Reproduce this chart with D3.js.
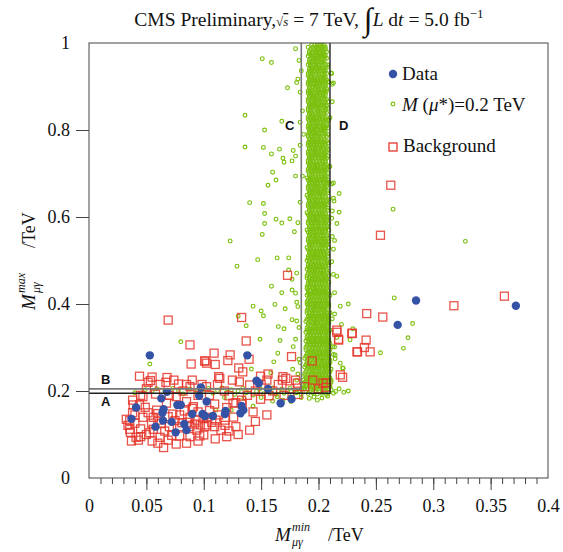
<!DOCTYPE html>
<html>
<head>
<meta charset="utf-8">
<script src="https://cdn.jsdelivr.net/npm/d3@7"></script>
<style>
  body { margin: 0; background: #fff; }
  svg text { font-family: "Liberation Serif", "Times New Roman", serif; fill: #111; }
</style>
</head>
<body>
<div id="chart"></div>
<script>
const width = 563;
const height = 552;

const xMajor = [0.05, 0.1, 0.15, 0.2, 0.25, 0.3, 0.35];
const xLabels = [0, 0.05, 0.1, 0.15, 0.2, 0.25, 0.3, 0.35, 0.4];
const yLabels = [0, 0.2, 0.4, 0.6, 0.8, 1];

// selection boundaries (TeV)
const cutsGray = { x: 0.185, y: 0.205 };
const cutsBlack = { x: 0.21, y: 0.195 };

// observed events [Mmin, Mmax]
const dataPts = [
  [0.053,0.282],[0.138,0.282],[0.285,0.408],[0.372,0.396],[0.269,0.352],
  [0.068,0.198],[0.063,0.183],[0.0975,0.208],[0.096,0.189],[0.1025,0.176],
  [0.041,0.162],[0.065,0.158],[0.064,0.150],[0.077,0.168],[0.080,0.168],
  [0.090,0.147],[0.099,0.147],[0.101,0.1425],[0.037,0.136],[0.0645,0.132],
  [0.072,0.129],[0.083,0.124],[0.058,0.118],[0.085,0.110],[0.0755,0.105],
  [0.146,0.2235],[0.148,0.218],[0.156,0.2045],[0.167,0.172],[0.1765,0.1815],
  [0.133,0.1655],[0.1345,0.156],[0.132,0.149],[0.119,0.154],[0.108,0.1425],[0.1185,0.147]
];

// background MC
const bkgPts = [
  [0.263,0.673],[0.254,0.558],[0.362,0.418],[0.318,0.396],[0.242,0.378],[0.256,0.370],
  [0.216,0.340],[0.229,0.332],[0.2175,0.319],[0.2415,0.317],[0.240,0.300],[0.234,0.290],
  [0.245,0.290],[0.173,0.466],[0.133,0.369],[0.069,0.363],[0.088,0.306],[0.089,0.262],[0.101,0.269],
  [0.044,0.234],[0.055,0.232],[0.0535,0.224],[0.0515,0.220],[0.068,0.231],[0.067,0.220],
  [0.078,0.216],[0.085,0.215],[0.088,0.210],[0.0985,0.215],[0.1025,0.210],
  [0.038,0.179],[0.044,0.168],[0.049,0.1625],[0.038,0.150],[0.0325,0.135],[0.0355,0.132],
  [0.040,0.126],[0.047,0.1395],[0.0515,0.150],[0.056,0.1395],[0.0545,0.126],[0.060,0.133],
  [0.069,0.141],[0.073,0.147],[0.079,0.145],[0.088,0.1395],[0.094,0.133],[0.070,0.118],
  [0.079,0.118],[0.088,0.118],[0.094,0.110],[0.0965,0.0966],[0.053,0.104],[0.062,0.0935],
  [0.076,0.078],[0.041,0.0935],[0.043,0.087],[0.0355,0.112],[0.0675,0.172],[0.076,0.187],
  [0.085,0.1755],[0.091,0.164],[0.059,0.156],[0.047,0.187],[0.0385,0.168],[0.1025,0.122],
  [0.0995,0.137],[0.079,0.0966],[0.088,0.095],
  [0.137,0.315],[0.109,0.287],[0.123,0.283],[0.101,0.269],[0.1025,0.264],[0.110,0.261],
  [0.121,0.270],[0.1395,0.273],[0.1765,0.279],[0.1945,0.269],[0.1305,0.253],[0.134,0.244],
  [0.113,0.233],[0.114,0.229],[0.131,0.221],[0.1495,0.234],[0.156,0.239],[0.169,0.233],
  [0.1715,0.229],[0.1685,0.225],[0.140,0.214],[0.150,0.215],[0.1815,0.218],[0.216,0.335],
  [0.2295,0.333],[0.2175,0.317],[0.2335,0.290],[0.219,0.237],[0.221,0.2315],[0.204,0.218],
  [0.207,0.219],[0.2065,0.2085],[0.122,0.189],[0.1095,0.170],[0.1255,0.172],[0.128,0.173],
  [0.133,0.179],[0.1335,0.170],[0.1495,0.181],[0.157,0.189],[0.182,0.192],[0.143,0.152],
  [0.1025,0.1395],[0.1105,0.133],[0.1185,0.121],[0.101,0.118],[0.1095,0.118],[0.1185,0.133],[0.100,0.099],
  [0.034,0.121],[0.036,0.105],[0.045,0.113],[0.050,0.100],[0.056,0.112],[0.060,0.148],
  [0.063,0.125],[0.066,0.108],[0.069,0.087],[0.072,0.098],[0.075,0.132],[0.081,0.127],
  [0.083,0.154],[0.086,0.128],[0.090,0.160],[0.092,0.124],[0.095,0.152],[0.097,0.122],
  [0.105,0.155],[0.107,0.128],[0.113,0.145],[0.115,0.110],[0.120,0.162],[0.122,0.108],
  [0.126,0.140],[0.128,0.118],[0.040,0.145],[0.045,0.190],[0.050,0.205],[0.058,0.193],
  [0.062,0.215],[0.070,0.190],[0.074,0.225],[0.082,0.200],[0.090,0.225],[0.095,0.190],
  [0.105,0.190],[0.112,0.215],[0.118,0.200],[0.125,0.225],[0.138,0.190],[0.145,0.200],
  [0.155,0.225],[0.160,0.200],[0.165,0.215],[0.170,0.190],[0.175,0.205],[0.180,0.225],
  [0.188,0.210],[0.195,0.225],[0.200,0.205],[0.145,0.130],[0.155,0.145],[0.140,0.110],
  [0.130,0.100],[0.110,0.090],[0.095,0.085],[0.085,0.080],[0.060,0.080],[0.045,0.095],
  [0.037,0.085],[0.055,0.085],[0.120,0.095],[0.065,0.070]
];

// signal MC, scattered points [Mmin, Mmax]
const sigScatter = [
  [0.180,0.987],[0.151,0.964],[0.159,0.955],[0.183,0.960],[0.185,0.936],[0.182,0.917],
  [0.181,0.909],[0.173,0.897],[0.184,0.887],[0.136,0.834],[0.168,0.820],[0.153,0.800],
  [0.184,0.818],[0.186,0.844],[0.136,0.761],[0.152,0.760],[0.166,0.756],[0.159,0.745],
  [0.178,0.753],[0.180,0.740],[0.169,0.735],[0.170,0.726],[0.177,0.729],[0.184,0.765],
  [0.160,0.703],[0.163,0.685],[0.156,0.673],[0.180,0.694],[0.186,0.694],[0.187,0.790],
  [0.140,0.633],[0.152,0.631],[0.153,0.608],[0.163,0.595],[0.168,0.586],[0.175,0.596],
  [0.153,0.585],[0.151,0.560],[0.123,0.545],[0.179,0.566],[0.182,0.587],[0.184,0.634],
  [0.147,0.502],[0.164,0.506],[0.174,0.506],[0.129,0.487],[0.174,0.478],[0.181,0.471],
  [0.177,0.457],[0.159,0.441],[0.168,0.426],[0.177,0.432],[0.180,0.425],[0.143,0.395],
  [0.162,0.399],[0.171,0.389],[0.150,0.384],[0.152,0.373],[0.130,0.372],[0.137,0.350],
  [0.165,0.348],[0.170,0.343],[0.177,0.364],[0.183,0.346],[0.181,0.404],[0.182,0.394],[0.181,0.361],
  [0.2115,0.676],[0.218,0.654],[0.213,0.643],[0.2135,0.637],[0.212,0.614],[0.218,0.611],
  [0.265,0.618],[0.2115,0.597],[0.216,0.585],[0.212,0.555],[0.214,0.546],[0.213,0.526],
  [0.328,0.544],[0.2115,0.497],[0.216,0.464],[0.213,0.468],[0.214,0.426],[0.266,0.414],
  [0.226,0.400],[0.219,0.395],[0.214,0.377],[0.212,0.366],[0.220,0.353],[0.230,0.343],
  [0.216,0.323],[0.2275,0.318],[0.282,0.355],[0.278,0.3225],[0.274,0.298],[0.254,0.288],
  [0.214,0.301],[0.213,0.284],[0.2145,0.274],[0.221,0.253],
  [0.211,0.931],[0.213,0.908],[0.212,0.865],[0.210,0.828],[0.213,0.678],[0.2115,0.930],
  [0.212,0.905],[0.209,0.911],[0.2085,0.865],[0.209,0.823],[0.208,0.804],[0.210,0.716],
  [0.149,0.319],[0.1665,0.316],[0.180,0.319],[0.1645,0.287],[0.161,0.267],[0.178,0.302],
  [0.183,0.273],[0.1775,0.250],[0.182,0.239],[0.1585,0.242],[0.1415,0.2505],[0.181,0.225],
  [0.184,0.265],[0.2125,0.302],[0.2145,0.283],[0.2215,0.252],[0.219,0.264],
  [0.053,0.262],[0.080,0.313]
];

// signal MC, low band around Mmax = 0.2 TeV
const sigLow = [
  [0.040,0.196],[0.049,0.203],[0.055,0.199],[0.059,0.205],[0.066,0.200],[0.073,0.206],
  [0.078,0.201],[0.082,0.193],[0.088,0.204],[0.094,0.198],[0.099,0.202],[0.104,0.206],
  [0.108,0.195],[0.112,0.201],[0.116,0.207],[0.120,0.197],[0.124,0.203],[0.127,0.192],
  [0.130,0.200],[0.134,0.206],[0.137,0.196],[0.140,0.202],[0.143,0.191],[0.146,0.199],
  [0.149,0.205],[0.152,0.194],[0.155,0.201],[0.158,0.197],[0.160,0.207],[0.163,0.192],
  [0.165,0.200],[0.168,0.204],[0.170,0.195],[0.173,0.199],[0.175,0.206],[0.177,0.191],
  [0.179,0.202],[0.181,0.196],[0.183,0.200],[0.185,0.193],[0.187,0.205],[0.189,0.198],
  [0.191,0.194],[0.193,0.201],[0.195,0.196],[0.197,0.200],[0.199,0.193],[0.201,0.198],
  [0.203,0.195],[0.205,0.200],[0.207,0.192],[0.209,0.197],[0.211,0.203],[0.213,0.195],
  [0.215,0.199],[0.218,0.205],[0.222,0.197],[0.226,0.200],
  [0.124,0.156],[0.143,0.165],[0.164,0.187],[0.169,0.179],[0.1105,0.156],[0.150,0.185],
  [0.135,0.183],[0.160,0.177],[0.118,0.185],[0.175,0.185],[0.185,0.185],[0.192,0.183],
  [0.176,0.176],[0.196,0.186],[0.203,0.184],[0.199,0.179],[0.208,0.188]
];

// signal MC, dense vertical band: [Mmax*1000, Mmin*1000 ...]
const sigBand = [
  [995,194,197,199,201,203,205],[985,193,196,198,200,202,204,206],[975,192,195,198,201,203,205],
  [965,193,196,199,200,202,205,207],[955,192,194,197,199,202,204],[945,193,195,198,201,203,206,208],
  [935,192,194,196,199,201,204,206],[925,191,194,197,200,203,205],[915,192,195,197,199,202,204,207],
  [905,191,193,196,198,201,203,206],[895,192,194,197,200,202,205,207],[885,191,193,196,199,201,204,206],
  [875,192,195,197,200,203,205],[865,191,194,196,198,201,203,206],[855,192,194,197,199,202,205,207],
  [845,191,193,196,199,201,204,206],[835,192,195,197,200,202,205],[825,191,194,196,198,201,203,206],
  [815,192,194,197,199,202,204,207],[805,191,193,196,198,201,204,206],[795,192,195,197,200,203,205],
  [785,191,194,196,199,201,204,207],[775,192,194,197,199,202,205,207],[765,191,193,196,198,201,203,206],
  [755,192,195,197,200,202,205,208],[745,191,194,196,199,201,204,206],[735,192,194,197,200,203,205,207],
  [725,191,193,196,198,201,204,206],[715,192,195,197,199,202,205,208],[705,191,194,196,199,201,204,206],
  [695,192,194,197,200,203,205,207],[685,191,193,196,198,201,203,206,208],[675,192,195,197,199,202,205,207],
  [665,191,194,196,199,201,204,206],[655,192,194,197,200,202,205,208],[645,191,193,196,198,201,203,206],
  [635,192,195,197,199,202,204,207],[625,191,194,196,199,201,204,206],[615,192,194,197,200,203,205,208],
  [605,191,193,196,198,201,203,206],[595,192,195,197,199,202,205,207],[585,191,194,196,199,201,204,206,209],
  [575,192,194,197,200,202,205,207],[565,191,193,196,198,201,203,206],[555,192,195,197,199,202,204,207],
  [545,191,194,196,199,201,204,206,209],[535,192,194,197,200,203,205,207],[525,191,193,196,198,201,203,206],
  [515,192,195,197,199,202,205,208],[505,191,194,196,199,201,204,206],[495,192,194,197,200,202,205,207,209],
  [485,191,193,196,198,201,203,206],[475,192,195,197,199,202,204,207],[465,190,194,196,199,201,204,206,209],
  [455,192,194,197,200,203,205,207],[445,191,193,196,198,201,203,206,208],[435,190,195,197,199,202,205,207],
  [425,191,194,196,199,201,204,206,209],[415,192,194,197,200,202,205,207],[405,190,193,196,198,201,203,206,208],
  [395,191,195,197,199,202,204,207,209],[385,190,194,196,199,201,204,206],[375,192,194,197,200,203,205,207,209],
  [365,190,193,196,198,201,203,206,208],[355,191,195,197,199,202,205,207,209],[345,190,193,196,199,201,204,206,208],
  [335,189,192,194,197,200,202,205,207,209],[325,190,193,196,198,201,203,206,208],[315,189,192,195,197,199,202,204,207,209],
  [305,190,193,196,198,201,203,206,208],[295,189,192,194,197,200,202,205,207,210],[285,190,193,196,198,201,203,206,208],
  [275,188,191,194,197,199,202,204,207,209],[265,190,192,195,198,200,203,205,208,210],[255,188,191,194,196,199,201,204,206,209],
  [245,189,192,195,197,200,202,205,207,210],[235,188,191,193,196,198,201,203,206,209],[225,187,190,193,195,198,200,203,205,208,211],
  [215,186,189,192,194,197,199,202,204,207,210],[205,185,188,191,193,196,198,201,203,206,209],
  [990,191,195,198,200,203,206],[980,192,194,197,199,201,204,207],[970,191,194,196,199,202,204,206],
  [960,192,195,197,200,203,205],[950,191,193,196,198,200,203,206,208],[940,192,195,197,200,202,205],
  [930,191,193,195,198,200,203,205,207],[920,192,194,196,199,202,204,206],[910,191,193,196,198,200,203,205,208],
  [900,192,195,197,199,201,204,206],[890,191,193,195,198,200,203,205,207],[880,192,194,196,199,201,204,206],
  [870,191,193,196,198,200,202,205,207],[860,192,195,197,200,203,205],[850,191,193,195,198,200,203,206,208],
  [840,192,194,197,200,202,205,207],[830,191,193,196,199,201,204,206],[820,192,195,197,199,202,205,207],
  [810,191,193,195,198,200,203,205,207],[800,192,194,196,199,202,204,206],[790,191,193,196,198,200,203,206,208],
  [780,192,195,197,200,202,205],[770,191,193,195,198,201,203,206,208],[760,192,194,197,199,202,204,207],
  [750,191,193,196,198,200,203,205,207],[740,192,195,197,200,202,205,208],[730,191,193,195,198,201,203,206],
  [720,192,194,197,199,202,204,207],[710,191,193,196,198,200,203,205,207],[700,192,195,197,200,202,205,208],
  [690,190,193,195,198,200,203,206],[680,192,194,197,199,202,204,207,209],[670,191,193,196,198,200,203,205,207],
  [660,192,195,197,200,202,205,208],[650,190,193,195,198,201,203,206],[640,192,194,197,199,202,204,207,209],
  [630,191,193,196,198,200,203,205,207],[620,192,195,197,200,202,205,208],[610,190,193,195,198,201,203,206],
  [600,192,194,197,199,202,204,207,209],[590,191,193,196,198,200,203,205,207],[580,192,195,197,200,202,205,208],
  [570,190,193,195,198,201,203,206,209],[560,192,194,197,199,202,204,207],[550,191,193,196,198,200,203,205,208],
  [540,192,195,197,200,202,205,207],[530,190,193,195,198,201,203,206,209],[520,192,194,197,199,202,204,207],
  [510,191,193,196,198,200,203,205,208],[500,190,192,195,197,200,202,205,207],[490,191,193,196,198,201,203,206,209],
  [480,190,192,194,197,199,202,204,207],[470,191,193,196,198,201,203,205,208],[460,190,192,195,197,200,202,205,207],
  [450,191,193,196,198,201,203,206,209],[440,190,192,194,197,199,202,204,207],[430,191,193,196,198,201,203,205,208],
  [420,190,192,195,197,200,202,205,207,210],[410,191,193,196,198,201,203,206,208],[400,190,192,194,197,199,202,204,207,209],
  [390,191,193,196,198,201,203,205,208],[380,190,192,195,197,200,202,205,207,210],[370,191,193,196,198,201,203,206,208],
  [360,189,192,194,197,199,202,204,207,209],[350,191,193,196,198,201,203,205,208],[340,190,192,195,197,200,202,205,207,210],
  [330,191,193,196,198,201,203,206,208],[320,190,192,194,197,199,202,204,207,209],[310,191,193,196,198,201,203,205,208,210],
  [300,189,192,195,197,200,202,205,207,209],[290,191,193,196,198,201,203,206,208],[280,189,192,194,197,199,202,204,207,209],
  [270,190,193,196,198,201,203,205,208,210],[260,189,191,194,197,200,202,205,207,209],[250,190,193,195,198,200,203,206,208,211],
  [240,188,191,194,196,199,201,204,206,209],[230,189,192,194,197,199,202,204,207,210],[220,188,190,193,196,198,201,203,206,208,211],
  [210,187,189,192,195,197,200,202,205,207,210]
];

const blue = "#3453a6";
const green = "#7cc00f";
const red = "#e5352a";

const x = d3.scaleLinear().domain([0, 0.4]).range([89, 548]);
const y = d3.scaleLinear().domain([0, 1]).range([478, 43]);

const svg = d3.select("#chart").append("svg")
  .attr("width", width)
  .attr("height", height);

const plot = svg.append("g");

// signal
const bandPts = sigBand.flatMap(r => r.slice(1).map(v => [v / 1000, r[0] / 1000]));
const sigAll = bandPts.concat(sigScatter, sigLow);

plot.selectAll("circle.sig")
  .data(sigAll)
  .enter()
  .append("circle")
  .attr("class", "sig")
  .attr("cx", d => x(d[0]))
  .attr("cy", d => y(d[1]))
  .attr("r", 1.9)
  .attr("fill", "none")
  .attr("stroke", green)
  .attr("stroke-width", 1.15);

// background
plot.selectAll("rect.bkg")
  .data(bkgPts)
  .enter()
  .append("rect")
  .attr("class", "bkg")
  .attr("x", d => x(d[0]) - 4)
  .attr("y", d => y(d[1]) - 4)
  .attr("width", 8)
  .attr("height", 8)
  .attr("fill", "none")
  .attr("stroke", red)
  .attr("stroke-opacity", 0.85)
  .attr("stroke-width", 1.3);

// data
plot.selectAll("circle.dat")
  .data(dataPts)
  .enter()
  .append("circle")
  .attr("class", "dat")
  .attr("cx", d => x(d[0]))
  .attr("cy", d => y(d[1]))
  .attr("r", 4.2)
  .attr("fill", blue);

// cut lines
function cutPath(c) {
  return `M${x(0)},${y(c.y)}H${x(c.x)}V${y(1)}`;
}
svg.append("path").attr("d", cutPath(cutsGray))
  .attr("fill", "none").attr("stroke", "#777").attr("stroke-width", 1.6);
svg.append("path").attr("d", cutPath(cutsBlack))
  .attr("fill", "none").attr("stroke", "#222").attr("stroke-width", 1.4);

const regionLabels = [["A", 101, 406], ["B", 101, 384], ["C", 285, 130], ["D", 339, 130]];
svg.selectAll("text.region")
  .data(regionLabels)
  .enter()
  .append("text")
  .attr("class", "region")
  .attr("x", d => d[1])
  .attr("y", d => d[2])
  .style("font-family", "'Liberation Sans', Arial, sans-serif")
  .style("font-weight", "bold")
  .style("font-size", "13px")
  .text(d => d[0]);

// frame
svg.append("rect")
  .attr("x", x(0)).attr("y", y(1))
  .attr("width", x(0.4) - x(0)).attr("height", y(0) - y(1))
  .attr("fill", "none").attr("stroke", "#444").attr("stroke-width", 1);

// x axis
const minorTicks = d3.range(1, 40).map(i => i / 100);
svg.append("g")
  .attr("transform", `translate(0,${y(0)})`)
  .call(d3.axisBottom(x).tickValues(minorTicks).tickSize(6).tickFormat(""))
  .call(g => g.select(".domain").remove())
  .call(g => g.selectAll("line").attr("stroke", "#444"));

svg.append("g")
  .attr("transform", `translate(0,${y(0)})`)
  .call(d3.axisBottom(x).tickValues(xMajor).tickSize(12).tickFormat(""))
  .call(g => g.select(".domain").remove())
  .call(g => g.selectAll("line").attr("stroke", "#444"));

svg.append("g")
  .attr("transform", `translate(0,${y(0)})`)
  .attr("font-family", "Liberation Serif")
  .call(d3.axisBottom(x).tickValues(xLabels).tickSize(0).tickPadding(21)
    .tickFormat(d => String(+d.toFixed(2))))
  .attr("font-family", "Liberation Serif")
  .attr("font-size", 18)
  .call(g => g.select(".domain").remove())
  .call(g => g.selectAll("text").attr("fill", "#111"));

// y axis
svg.append("g")
  .attr("transform", `translate(${x(0)},0)`)
  .call(d3.axisLeft(y).tickValues(yLabels).tickSize(13).tickPadding(6)
    .tickFormat(d => String(+d.toFixed(1))))
  .attr("font-family", "Liberation Serif")
  .attr("font-size", 18)
  .call(g => g.select(".domain").remove())
  .call(g => g.selectAll("line").attr("stroke", "#444")
    .attr("opacity", d => (d === 0 || d === 1) ? 0 : 1))
  .call(g => g.selectAll("text").attr("fill", "#111"));

// axis titles
const xt = svg.append("g");
xt.append("text").attr("x", 275).attr("y", 541).style("font-style", "italic").style("font-size", "19px").text("M");
xt.append("text").attr("x", 292).attr("y", 531).style("font-style", "italic").style("font-size", "12px").text("min");
xt.append("text").attr("x", 292).attr("y", 546).style("font-style", "italic").style("font-size", "12px").text("μγ");
xt.append("text").attr("x", 328).attr("y", 541).style("font-size", "18px").text("/TeV");

const yt = svg.append("g").attr("transform", "translate(35,310) rotate(-90)");
yt.append("text").attr("x", 0).attr("y", 0).style("font-style", "italic").style("font-size", "19px").text("M");
yt.append("text").attr("x", 17).attr("y", -10).style("font-style", "italic").style("font-size", "12px").text("max");
yt.append("text").attr("x", 17).attr("y", 5).style("font-style", "italic").style("font-size", "12px").text("μγ");
yt.append("text").attr("x", 62).attr("y", 0).style("font-size", "18px").text("/TeV");

// title
const title = svg.append("text")
  .attr("x", 309).attr("y", 26)
  .attr("text-anchor", "middle")
  .style("font-size", "19.5px");
title.append("tspan").text("CMS Preliminary,");
title.append("tspan").style("font-size", "13px").text("√");
title.append("tspan").style("font-size", "13px").style("font-style", "italic")
  .style("text-decoration", "overline").text("s");
title.append("tspan").text(" = 7 TeV, ");
title.append("tspan").style("font-size", "32px").attr("dy", 4).text("∫");
title.append("tspan").style("font-style", "italic").attr("dy", -4).text("L");
title.append("tspan").text(" d");
title.append("tspan").style("font-style", "italic").text("t");
title.append("tspan").text(" = 5.0 fb");
title.append("tspan").style("font-size", "13px").attr("dy", -8).text("−1");

// legend
const lg = svg.append("g");
lg.append("circle").attr("cx", 393).attr("cy", 74).attr("r", 4.2).attr("fill", blue);
lg.append("text").attr("x", 402).attr("y", 80).style("font-size", "19px").text("Data");
lg.append("circle").attr("cx", 393).attr("cy", 104).attr("r", 1.9)
  .attr("fill", "none").attr("stroke", green).attr("stroke-width", 1.15);
const lt = lg.append("text").attr("x", 402).attr("y", 111).style("font-size", "19px");
lt.append("tspan").style("font-style", "italic").text("M");
lt.append("tspan").text(" (");
lt.append("tspan").style("font-style", "italic").text("μ");
lt.append("tspan").text("*)=0.2 TeV");
lg.append("rect").attr("x", 389).attr("y", 143).attr("width", 8).attr("height", 8)
  .attr("fill", "none").attr("stroke", red).attr("stroke-width", 1.3);
lg.append("text").attr("x", 403).attr("y", 152).style("font-size", "19px").text("Background");
</script>
</body>
</html>
